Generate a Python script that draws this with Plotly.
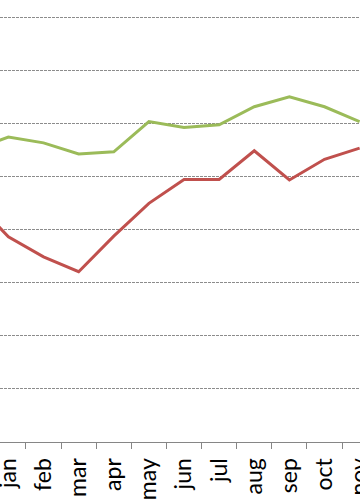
import plotly.graph_objects as go

months = ["dec", "jan", "feb", "mar", "apr", "may", "jun", "jul", "aug", "sep", "oct", "nov"]
green_values = [55.1, 57.5, 56.4, 54.3, 54.7, 60.4, 59.3, 59.8, 63.2, 65.1, 63.2, 60.4]
red_values = [45.6, 38.7, 34.9, 32.1, 38.8, 45.0, 49.5, 49.5, 54.9, 49.4, 53.3, 55.4]

fig = go.Figure()
fig.add_trace(go.Scatter(x=months, y=green_values, mode="lines",
                         line=dict(color="#9BBB59", width=3), cliponaxis=True))
fig.add_trace(go.Scatter(x=months, y=red_values, mode="lines",
                         line=dict(color="#C0504D", width=3), cliponaxis=True))

fig.update_layout(
    width=360, height=504,
    margin=dict(l=0, r=0, t=0, b=62, pad=0, autoexpand=False),
    plot_bgcolor="white", paper_bgcolor="white",
    showlegend=False,
    font=dict(family="Lato", size=23, color="#000000"),
)
fig.update_xaxes(
    type="category", categoryorder="array", categoryarray=months,
    range=[0.761, 11.01], automargin=False,
    showline=True, linecolor="#868686", linewidth=1,
    ticks="outside", ticklen=6, tickcolor="#868686", tickwidth=1,
    tickson="boundaries", tickangle=-90, ticklabelstandoff=6,
    showgrid=False, zeroline=False,
)
fig.update_yaxes(
    range=[0, 83.33], dtick=10, tick0=0, automargin=False,
    showgrid=True, gridcolor="#8c8c8c", gridwidth=1, griddash="3px,1px",
    showticklabels=False, zeroline=False, showline=False,
)
fig.write_html(
    "out.html",
    config={"displayModeBar": False, "staticPlot": True},
    post_script="document.body.style.margin='0';document.body.style.overflow='hidden';",
)
